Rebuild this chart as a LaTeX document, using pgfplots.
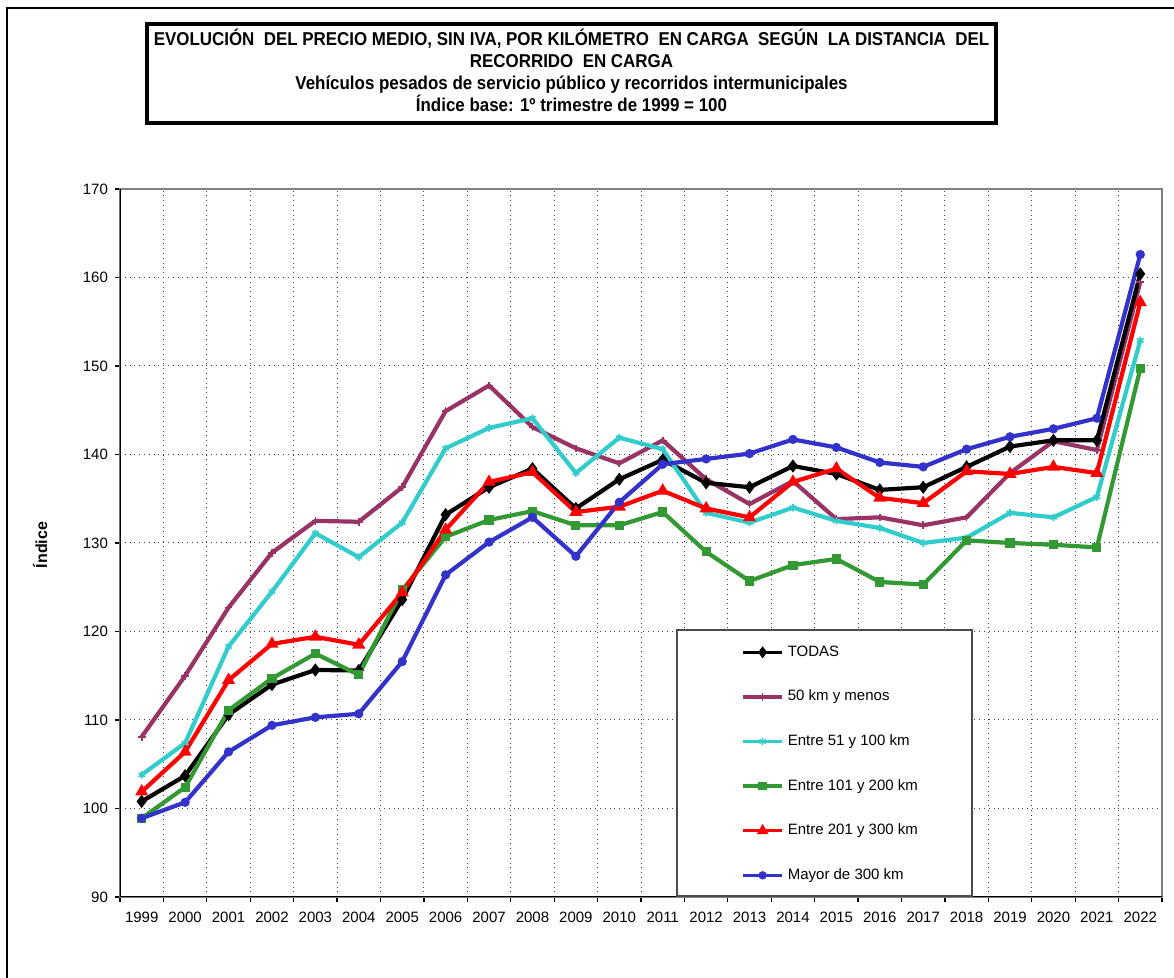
\documentclass[border=0pt]{standalone}
\usepackage{fontspec}
\setmainfont{Liberation Sans}
\usepackage{graphicx}
\usepackage{pgfplots}
\pgfplotsset{compat=1.18}
\definecolor{cP}{HTML}{993366}
\definecolor{cC}{HTML}{33CCCC}
\definecolor{cG}{HTML}{339933}
\definecolor{cR}{HTML}{FF0000}
\definecolor{cB}{HTML}{3333CC}
\definecolor{cAx}{HTML}{808080}
\begin{document}
\begin{tikzpicture}
\useasboundingbox (0,0) rectangle (587pt,489pt);
\draw[line width=0.6pt] (3.5pt,0) -- (3.5pt,485pt) -- (587pt,485pt);
\draw[line width=1.6pt] (73.5pt,427.5pt) rectangle (498pt,477pt);
\begin{scope}[every node/.style={font=\bfseries\fontsize{9.3}{11}\selectfont, anchor=base, inner sep=0pt}]
\node at (285.75pt,466.3pt) {\scalebox{0.91}[1]{EVOLUCIÓN\ \ DEL PRECIO MEDIO, SIN IVA, POR KILÓMETRO\ \ EN CARGA\ \ SEGÚN\ \ LA DISTANCIA\ \ DEL}};
\node at (285.75pt,455.3pt) {\scalebox{0.91}[1]{RECORRIDO\ \ EN CARGA}};
\node at (285.75pt,444.2pt) {\scalebox{0.91}[1]{Vehículos pesados de servicio público y recorridos intermunicipales}};
\node at (285.75pt,433.1pt) {\scalebox{0.91}[1]{Índice base: 1º trimestre de 1999 = 100}};
\end{scope}
\node[rotate=90, font=\bfseries\fontsize{8}{10}\selectfont] at (20pt,216.5pt) {Índice};
\begin{axis}[
  at={(60pt,40.5pt)}, anchor=south west,
  scale only axis, width=521pt, height=354pt,
  xmin=-0.5, xmax=23.5, ymin=90, ymax=170,
  xtick={0,...,23},
  xticklabels={1999,2000,2001,2002,2003,2004,2005,2006,2007,2008,2009,2010,2011,2012,2013,2014,2015,2016,2017,2018,2019,2020,2021,2022},
  minor xtick={-0.5,0.5,...,23.5},
  ytick={90,100,...,170},
  xtick pos=bottom, ytick pos=left,
  major x tick style={draw=none},
  minor x tick style={draw=black, line width=0.6pt},
  y tick style={draw=black, line width=0.6pt},
  tick align=outside, major tick length=2.5pt, minor tick length=2.5pt,
  xminorgrids=true, ymajorgrids=true,
  minor grid style={dotted, black!75, line width=0.5pt},
  major grid style={dotted, black!75, line width=0.5pt},
  axis line style={cAx, line width=1pt},
  tick label style={font=\fontsize{7.5}{9}\selectfont},
  /pgf/number format/assume math mode=true,
  xticklabel style={yshift=-1.5pt},
  every axis plot/.append style={line width=2.1pt},
  legend cell align=left,
  legend style={at={(rel axis cs:0.596,0.356)}, anchor=north west, draw=none, fill=none,
    inner sep=0pt, row sep=15.3pt, column sep=0pt,
    font=\fontsize{7.5}{9}\selectfont,
    nodes={text height=5.5pt, text depth=1.5pt, inner ysep=0pt}},
  legend image code/.code={\draw[mark repeat=2,mark phase=2,#1,line width=1.7pt] plot coordinates {(0pt,0pt) (9.75pt,0pt) (19.5pt,0pt)};},
]
\addplot[cP, mark=+, mark size=1.9pt, mark options={line width=0.8pt}, forget plot] coordinates {
(0,108.1)(1,115.0)(2,122.7)(3,128.9)(4,132.5)(5,132.4)(6,136.3)(7,144.9)(8,147.8)(9,143.1)(10,140.7)(11,139.0)(12,141.6)(13,137.2)(14,134.4)(15,137.0)(16,132.7)(17,132.9)(18,132.0)(19,132.9)(20,137.9)(21,141.5)(22,140.5)(23,159.5)};
\addplot[black, mark=diamond*, mark size=1.6pt, forget plot] coordinates {
(0,100.8)(1,103.7)(2,110.6)(3,114.0)(4,115.65)(5,115.6)(6,123.6)(7,133.2)(8,136.3)(9,138.4)(10,133.9)(11,137.2)(12,139.4)(13,136.8)(14,136.3)(15,138.7)(16,137.8)(17,136.0)(18,136.3)(19,138.6)(20,140.9)(21,141.6)(22,141.6)(23,160.4)};
\addplot[cC, mark=asterisk, mark size=1.9pt, mark options={line width=0.8pt}, forget plot] coordinates {
(0,103.8)(1,107.4)(2,118.3)(3,124.5)(4,131.1)(5,128.4)(6,132.3)(7,140.7)(8,143.0)(9,144.1)(10,137.9)(11,141.9)(12,140.6)(13,133.4)(14,132.3)(15,134.0)(16,132.5)(17,131.7)(18,130.0)(19,130.6)(20,133.4)(21,132.9)(22,135.2)(23,152.9)};
\addplot[cG, mark=square*, mark size=1.25pt, forget plot] coordinates {
(0,98.9)(1,102.4)(2,111.1)(3,114.7)(4,117.5)(5,115.1)(6,124.7)(7,130.7)(8,132.6)(9,133.6)(10,132.0)(11,132.0)(12,133.5)(13,129.0)(14,125.7)(15,127.5)(16,128.2)(17,125.6)(18,125.3)(19,130.3)(20,130.0)(21,129.8)(22,129.5)(23,149.7)};
\addplot[cR, mark=triangle*, mark size=1.7pt, forget plot] coordinates {
(0,101.9)(1,106.4)(2,114.5)(3,118.6)(4,119.4)(5,118.5)(6,124.4)(7,131.5)(8,136.9)(9,138.0)(10,133.5)(11,134.1)(12,135.9)(13,133.9)(14,132.9)(15,136.9)(16,138.4)(17,135.1)(18,134.5)(19,138.1)(20,137.8)(21,138.6)(22,137.9)(23,157.2)};
\addplot[cB, mark=*, mark size=1.2pt, forget plot] coordinates {
(0,98.9)(1,100.7)(2,106.4)(3,109.4)(4,110.3)(5,110.7)(6,116.6)(7,126.4)(8,130.1)(9,132.9)(10,128.5)(11,134.6)(12,138.9)(13,139.5)(14,140.1)(15,141.7)(16,140.8)(17,139.1)(18,138.6)(19,140.6)(20,142.0)(21,142.9)(22,144.1)(23,162.6)};
\draw[black, line width=1pt] (rel axis cs:0,0) -- (rel axis cs:0,1);
\draw[black, line width=1pt] (rel axis cs:0,0) -- (rel axis cs:1,0);
\draw[black!70, line width=0.7pt, fill=white] (rel axis cs:0.5345,0.0014) rectangle (rel axis cs:0.8177,0.377);
\addlegendimage{black, mark=diamond*, mark size=1.6pt}
\addlegendentry{TODAS}
\addlegendimage{cP, mark=+, mark size=1.9pt, mark options={line width=0.8pt}}
\addlegendentry{50 km y menos}
\addlegendimage{cC, mark=asterisk, mark size=1.9pt, mark options={line width=0.8pt}}
\addlegendentry{Entre 51 y 100 km}
\addlegendimage{cG, mark=square*, mark size=1.25pt}
\addlegendentry{Entre 101 y 200 km}
\addlegendimage{cR, mark=triangle*, mark size=1.7pt}
\addlegendentry{Entre 201 y 300 km}
\addlegendimage{cB, mark=*, mark size=1.2pt}
\addlegendentry{Mayor de 300 km}
\end{axis}
\end{tikzpicture}
\end{document}
